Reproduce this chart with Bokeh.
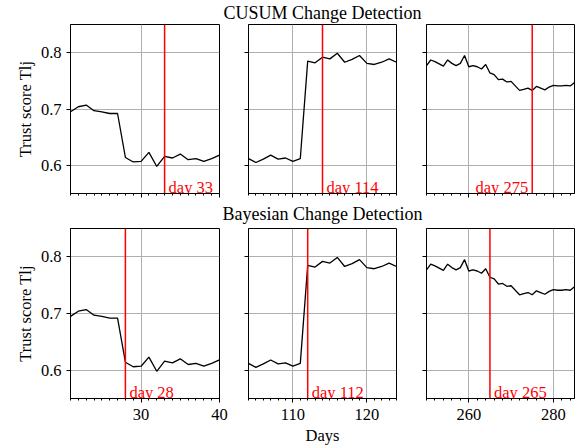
from bokeh.plotting import figure
from bokeh.layouts import row, column
from bokeh.models import Span, Label, FixedTicker, Range1d
from bokeh.embed import file_html
from bokeh.resources import INLINE

FONT = "Liberation Serif"

# ---- data ----
days_a = list(range(21, 41))
trust_a = [0.695, 0.704, 0.707, 0.697, 0.695, 0.692, 0.692, 0.614, 0.606, 0.607,
           0.623, 0.598, 0.616, 0.613, 0.620, 0.610, 0.612, 0.607, 0.612, 0.618]

days_b = list(range(104, 125))
trust_b = [0.612, 0.605, 0.611, 0.618, 0.611, 0.613, 0.607, 0.612, 0.785, 0.782,
           0.792, 0.789, 0.799, 0.783, 0.788, 0.795, 0.781, 0.779, 0.783, 0.789, 0.783]

days_c = list(range(250, 286))
trust_c = [0.777, 0.787, 0.784, 0.780, 0.776, 0.787, 0.781, 0.777, 0.781, 0.795,
           0.775, 0.777, 0.775, 0.771, 0.779, 0.764, 0.761, 0.752, 0.753, 0.748,
           0.749, 0.741, 0.733, 0.735, 0.737, 0.733, 0.740, 0.737, 0.734, 0.739,
           0.742, 0.741, 0.741, 0.742, 0.741, 0.747]

cusum_days = [33, 114, 275]
bayes_days = [28, 112, 265]
row_titles = ["CUSUM Change Detection", "Bayesian Change Detection"]
x_limits = [(21, 40), (104, 124), (250, 285)]
x_major = [[20, 30, 40], [110, 120], [260, 280]]
x_minor = [list(range(20, 41)), list(range(104, 125)), list(range(250, 286, 2))]
y_ticks = [0.6, 0.7, 0.8]
y_label = "Trust score Tlj"
x_label = "Days"

series_days = [days_a, days_b, days_c]
series_trust = [trust_a, trust_b, trust_c]
change_days = [cusum_days, bayes_days]

# ---- layout geometry (pixels) ----
frame_w = [149, 148, 148]
border_l = [70, 14, 14]
border_r = [15, 16, 8]
frame_h = [169, 170]
border_t = [1, 3]
border_b = [8, 48]
title_top = [19, 21]      # room above the (invisible) strip frame for the title
title_bottom = [0, 1]
total_w = sum(frame_w) + sum(border_l) + sum(border_r)
mid_left = border_l[0] + frame_w[0] + border_r[0] + border_l[1]

TICK_FS = "16.5px"
LAB_FS = "16.5px"
TITLE_FS = "18px"


def make_title(r):
    # thin strip whose (empty) frame lies over the middle column, so the
    # title is centred over the middle panel and may span the whole width
    p = figure(frame_width=frame_w[1], frame_height=1,
               x_range=Range1d(0, 1), y_range=Range1d(0, 1),
               x_axis_type=None, y_axis_type=None,
               output_backend="svg", toolbar_location=None,
               min_border_left=mid_left,
               min_border_right=total_w - mid_left - frame_w[1],
               min_border_top=title_top[r], min_border_bottom=title_bottom[r],
               background_fill_color="white", border_fill_color="white")
    p.outline_line_color = None
    p.grid.visible = False
    p.title.text = row_titles[r]
    p.title.align = "center"
    p.title.text_font = FONT
    p.title.text_font_size = TITLE_FS
    p.title.text_font_style = "normal"
    p.title.text_color = "black"
    p.title.standoff = 0
    p.title.offset = 0
    return p


def make_panel(r, c):
    lo, hi = x_limits[c]
    p = figure(frame_width=frame_w[c], frame_height=frame_h[r],
               x_range=Range1d(lo, hi), y_range=Range1d(0.55, 0.85),
               output_backend="svg", toolbar_location=None,
               min_border_left=border_l[c], min_border_right=border_r[c],
               min_border_top=border_t[r], min_border_bottom=border_b[r],
               background_fill_color="white", border_fill_color="white")
    p.outline_line_color = "black"
    p.outline_line_width = 1
    p.outline_line_alpha = 1

    p.xaxis.ticker = FixedTicker(ticks=x_major[c], minor_ticks=x_minor[c])
    p.yaxis.ticker = FixedTicker(ticks=y_ticks, minor_ticks=[])
    for ax in (p.xaxis[0], p.yaxis[0]):
        ax.axis_line_color = "black"
        ax.axis_line_width = 1
        ax.major_tick_in = 0
        ax.major_tick_out = 4
        ax.minor_tick_in = 0
        ax.minor_tick_out = 2
        ax.major_tick_line_color = "black"
        ax.minor_tick_line_color = "black"
        ax.major_label_text_font = FONT
        ax.major_label_text_font_size = TICK_FS
        ax.major_label_text_color = "black"
        ax.axis_label_text_font = FONT
        ax.axis_label_text_font_size = LAB_FS
        ax.axis_label_text_font_style = "normal"
        ax.axis_label_text_color = "black"
    p.xaxis.major_label_standoff = 6
    p.yaxis.major_label_standoff = 5
    if r == 0:
        p.xaxis.major_label_text_color = None
        p.xaxis.major_label_text_font_size = "1px"
        p.xaxis.major_label_standoff = 0
    if c != 0:
        p.yaxis.major_label_text_color = None
        p.yaxis.major_label_text_font_size = "1px"
        p.yaxis.major_label_standoff = 0
    else:
        p.yaxis.axis_label = y_label
        p.yaxis.axis_label_standoff = 3
    if r == 1 and c == 1:
        p.xaxis.axis_label = x_label
        p.xaxis.axis_label_standoff = 3

    p.xgrid.grid_line_color = "#b0b0b0"
    p.ygrid.grid_line_color = "#b0b0b0"
    p.xgrid.grid_line_width = 1
    p.ygrid.grid_line_width = 1

    p.line(series_days[c], series_trust[c], line_color="black", line_width=1.3)

    d = change_days[r][c]
    p.add_layout(Span(location=d, dimension="height", line_color="red", line_width=1.5))
    right_side = (hi - d) > 0.3 * (hi - lo)
    p.add_layout(Label(x=d, y=0.5605, text="day %d" % d,
                       x_offset=4 if right_side else -4,
                       text_align="left" if right_side else "right",
                       text_baseline="alphabetic",
                       text_color="red", text_font=FONT, text_font_size=TICK_FS))
    return p


items = []
for r in range(2):
    items.append(make_title(r))
    items.append(row(*[make_panel(r, c) for c in range(3)]))
layout = column(*items)

open("out.html", "w").write(file_html(layout, INLINE))
